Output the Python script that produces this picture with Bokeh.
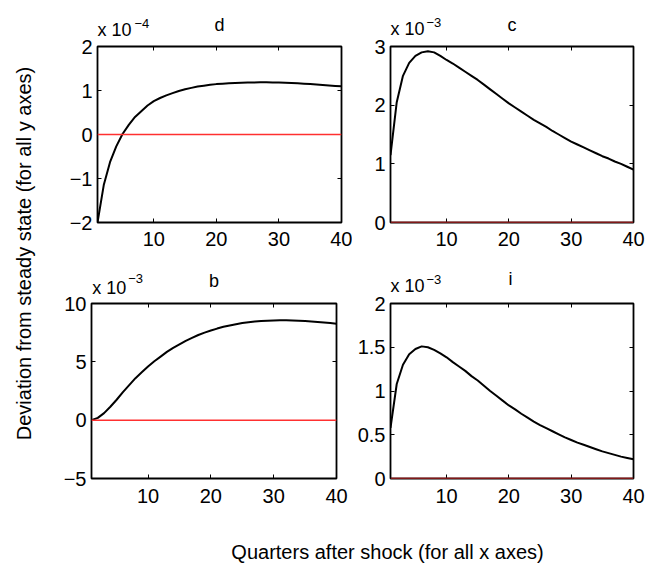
import math
from bokeh.plotting import figure
from bokeh.layouts import row, column
from bokeh.models import (Range1d, LinearAxis, FixedTicker, CustomJSTickFormatter,
                          Label, Span, GridBox)
from bokeh.embed import file_html
from bokeh.resources import INLINE

# ---------------- data (values in the units shown on each panel's axis) ----------------
quarters = list(range(1, 41))

# panel d, x 10^-4
d_vals = [-2.0, -1.15, -0.63, -0.27, 0.01, 0.22, 0.40, 0.53, 0.66, 0.76,
          0.83, 0.89, 0.94, 0.99, 1.03, 1.06, 1.09, 1.11, 1.13, 1.145,
          1.155, 1.165, 1.17, 1.175, 1.18, 1.183, 1.185, 1.185, 1.183, 1.18,
          1.175, 1.17, 1.163, 1.155, 1.145, 1.135, 1.125, 1.115, 1.105, 1.095]

# panel c, x 10^-3
c_vals = [1.15, 2.05, 2.50, 2.72, 2.84, 2.90, 2.92, 2.90, 2.84, 2.77,
          2.71, 2.64, 2.57, 2.50, 2.43, 2.35, 2.27, 2.19, 2.11, 2.03,
          1.96, 1.89, 1.82, 1.75, 1.69, 1.63, 1.56, 1.50, 1.44, 1.38,
          1.33, 1.28, 1.23, 1.18, 1.13, 1.09, 1.04, 1.00, 0.95, 0.90]

# panel b, x 10^-3
b_vals = [0.0, 0.2, 0.6, 1.15, 1.75, 2.4, 3.0, 3.6, 4.1, 4.6,
          5.05, 5.45, 5.85, 6.2, 6.5, 6.8, 7.05, 7.3, 7.5, 7.68,
          7.85, 8.0, 8.12, 8.23, 8.32, 8.4, 8.46, 8.5, 8.53, 8.55,
          8.56, 8.56, 8.55, 8.53, 8.5, 8.46, 8.42, 8.37, 8.32, 8.26]

# panel i, x 10^-3
i_vals = [0.58, 1.08, 1.30, 1.42, 1.48, 1.51, 1.50, 1.47, 1.43, 1.385,
          1.33, 1.28, 1.23, 1.17, 1.12, 1.06, 1.00, 0.945, 0.89, 0.835,
          0.79, 0.74, 0.695, 0.65, 0.61, 0.575, 0.54, 0.505, 0.47, 0.44,
          0.41, 0.385, 0.36, 0.335, 0.31, 0.29, 0.27, 0.25, 0.235, 0.22]

steady_state = 0.0
x_ticks = [10, 20, 30, 40]

panel_names = ["d", "c", "b", "i"]
panel_exponents = ["\u22124", "\u22123", "\u22123", "\u22123"]
panel_ylims = [(-2, 2), (0, 3), (-5, 10), (0, 2)]
panel_yticks = [[-2, -1, 0, 1, 2], [0, 1, 2, 3], [-5, 0, 5, 10], [0, 0.5, 1, 1.5, 2]]

x_label = "Quarters after shock (for all x axes)"
y_label = "Deviation from steady state (for all y axes)"

FONT = "Liberation Sans"
W, H = 646, 563
MINUS_FMT = "return (tick < 0 ? '\\u2212' : '') + Math.abs(tick).toString()"


def make_panel(vals, ylim, yticks, width, height, bl, br, bt, bb, xstand):
    p = figure(width=width, height=height, title=None,
               x_range=Range1d(quarters[0], quarters[-1]),
               y_range=Range1d(ylim[0], ylim[1]),
               output_backend="svg", toolbar_location=None,
               min_border_left=bl, min_border_right=br,
               min_border_top=bt, min_border_bottom=bb)
    p.grid.visible = False
    p.outline_line_color = "black"
    p.outline_line_width = 1.8
    p.background_fill_color = "white"
    p.border_fill_color = "white"

    # extra top / right axes: tick marks only (MATLAB "box on")
    p.add_layout(LinearAxis(), "above")
    p.add_layout(LinearAxis(), "right")

    for ax in p.xaxis:
        ax.ticker = FixedTicker(ticks=x_ticks)
    for ax in p.yaxis:
        ax.ticker = FixedTicker(ticks=yticks)
        ax.formatter = CustomJSTickFormatter(code=MINUS_FMT)
    for ax in p.axis:
        ax.axis_line_color = None
        ax.major_tick_in = 4
        ax.major_tick_out = 0
        ax.major_tick_line_color = "black"
        ax.major_tick_line_width = 1
        ax.minor_tick_line_color = None
        ax.major_label_text_font = FONT
        ax.major_label_text_font_size = "20px"
        ax.major_label_text_color = "black"
    p.below[0].major_label_standoff = xstand
    p.left[0].major_label_standoff = 5
    for ax in (p.above[0], p.right[0]):
        ax.formatter = CustomJSTickFormatter(code="return ''")
        ax.major_label_standoff = 0
        ax.major_label_text_font_size = "0px"

    p.add_layout(Span(location=steady_state, dimension="width",
                      line_color="#ff3030", line_width=1.5))
    p.line(quarters, vals, line_color="black", line_width=2)
    return p


vals_list = [d_vals, c_vals, b_vals, i_vals]
# width, height, border left, right, top, bottom, x-label standoff
geoms = [(352, 255, 97, 11, 46, 33, 9),
         (294, 255, 38, 13, 44, 33, 9),
         (352, 308, 91, 16, 48, 84, 10),
         (294, 308, 38, 13, 48, 85, 10)]

panels = [make_panel(vals_list[k], panel_ylims[k], panel_yticks[k], *geoms[k])
          for k in range(4)]
panel_grid = column(row(panels[0], panels[1]), row(panels[2], panels[3]))

# transparent overlay carrying the panel titles, the "x 10^n" multipliers
# and the shared axis titles (page pixel coordinates, y measured from the top)
overlay = figure(width=W, height=H, x_range=Range1d(0, W), y_range=Range1d(0, H),
                 x_axis_type=None, y_axis_type=None, output_backend="svg",
                 toolbar_location=None, min_border=0, title=None)
overlay.grid.visible = False
overlay.outline_line_color = None
overlay.background_fill_color = None
overlay.border_fill_color = None

texts = [
    # text, x, y(from top), size, align, angle
    (panel_names[0], 219, 24.8, "18px", "center", 0),
    ("x 10", 97, 29.8, "18px", "left", 0),
    (panel_exponents[0], 134, 22.5, "13px", "left", 0),
    (panel_names[1], 511.5, 24.8, "18px", "center", 0),
    ("x 10", 390, 28.8, "18px", "left", 0),
    (panel_exponents[1], 426, 21.5, "13px", "left", 0),
    (panel_names[2], 213.5, 280.5, "18px", "center", 0),
    ("x 10", 91.7, 287.1, "18px", "left", 0),
    (panel_exponents[2], 127.7, 278.2, "13px", "left", 0),
    (panel_names[3], 510, 278.8, "18px", "center", 0),
    ("x 10", 390, 285.5, "18px", "left", 0),
    (panel_exponents[3], 426, 278.8, "13px", "left", 0),
    (y_label, 23, 253, "20px", "center", math.pi / 2),
    (x_label, 387, 551, "20px", "center", 0),
]
for (txt, x, y, size, align, ang) in texts:
    overlay.add_layout(Label(x=x, y=H - y, text=txt, text_align=align,
                             text_baseline="middle", angle=ang,
                             text_font=FONT, text_font_size=size, text_color="black"))

layout = GridBox(children=[(panel_grid, 0, 0), (overlay, 0, 0)])

open("out.html", "w").write(file_html(layout, INLINE))
